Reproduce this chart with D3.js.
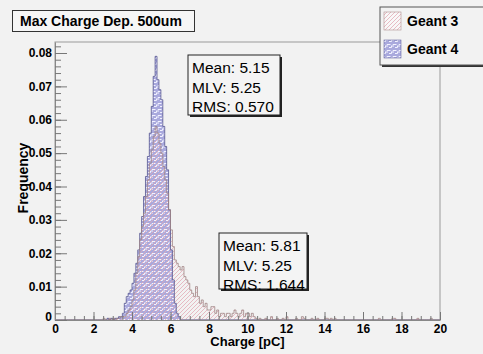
<!DOCTYPE html>
<html>
<head>
<meta charset="utf-8">
<script src="https://cdn.jsdelivr.net/npm/d3@7"></script>
<style>
  body { margin: 0; background: #f2f2f2; }
  text { font-family: "Liberation Sans", Arial, Helvetica, sans-serif; }
</style>
</head>
<body>
<script>

// histogram binning (pC)
var binWidth = 0.1;

// Geant 4 frequencies, contiguous bins from g4Start
var g4Start = 2.7;
var g4Freq = [0.0005, 0, 0.0005, 0, 0.0005, 0.0005, 0.001, 0.001, 0.002, 0.005,
              0.007, 0.008, 0.009, 0.011, 0.014, 0.017, 0.021, 0.026, 0.031, 0.037,
              0.043, 0.049, 0.056, 0.064, 0.073, 0.079, 0.072, 0.069, 0.066, 0.058,
              0.052, 0.045, 0.033, 0.021, 0.012, 0.005, 0.002, 0.001];

// Geant 3 frequencies, contiguous bins from g3Start
var g3Start = 2.5;
var g3Freq = [0.0005, 0, 0, 0.0005, 0, 0.0005, 0, 0.0005, 0.0005, 0.001,
              0.001, 0.001, 0.002, 0.003, 0.004, 0.006, 0.009, 0.014, 0.019, 0.024,
              0.028, 0.032, 0.037, 0.042, 0.047, 0.051, 0.055, 0.058, 0.056, 0.053,
              0.050, 0.046, 0.042, 0.038, 0.033, 0.027, 0.022, 0.018, 0.017, 0.016,
              0.015, 0.016, 0.013, 0.012, 0.011, 0.009, 0.008, 0.007, 0.010, 0.007,
              0.005, 0.006, 0.004, 0.005, 0.003, 0.003, 0.004, 0.004, 0.002, 0.003,
              0.001, 0.002, 0.002, 0.001, 0.002, 0.002, 0.001, 0.002, 0.003, 0.002,
              0.001, 0.002, 0.003, 0.001, 0.002, 0.002, 0.001, 0.002, 0.001, 0.0005];

// Geant 3 sparse tail (bin low edge, frequency)
var g3TailCharge = [10.6, 10.9, 11.2, 11.5, 11.8, 12.0, 12.5, 12.8, 12.9, 13.3, 13.6, 14.0, 14.1, 14.3, 14.5, 16.8, 17.5, 17.6, 18.8, 19.5];
var g3TailFreq   = [0.0005, 0.0005, 0.001, 0.0005, 0.0005, 0.001, 0.0005, 0.001, 0.0005, 0.0005, 0.0005, 0.0005, 0.0005, 0.0005, 0.0005, 0.0005, 0.0005, 0.0005, 0.0005, 0.0005];

// axis ticks
var xTicks = [0, 2, 4, 6, 8, 10, 12, 14, 16, 18, 20];
var yTicks = [0, 0.01, 0.02, 0.03, 0.04, 0.05, 0.06, 0.07, 0.08];
var yTickLabels = ["0", "0.01", "0.02", "0.03", "0.04", "0.05", "0.06", "0.07", "0.08"];

// stats
var g3Stats = ["Mean: 5.81", "MLV: 5.25", "RMS: 1.644"];
var g4Stats = ["Mean: 5.15", "MLV: 5.25", "RMS: 0.570"];
var legendNames = ["Geant 3", "Geant 4"];

var W = 483, H = 354;
var margin = {top: 42, right: 43, bottom: 34, left: 55},
    width = W - margin.left - margin.right,
    height = H - margin.top - margin.bottom;

var root = d3.select("body").append("svg")
    .attr("width", W).attr("height", H);

root.append("rect").attr("width", W).attr("height", H).attr("fill", "#f2f2f2");

// patterns
var defs = root.append("defs");
var p4 = defs.append("pattern").attr("id", "pat4")
    .attr("patternUnits", "userSpaceOnUse").attr("width", 6).attr("height", 6);
p4.append("rect").attr("width", 6).attr("height", 6).attr("fill", "#a9a9dd");
p4.append("path").attr("d", "M1,1.5h3.5M1,1.5v2.5M3,4.5h2.5v-2")
    .attr("stroke", "#f2f2ff").attr("stroke-width", 1).attr("fill", "none");

var p3 = defs.append("pattern").attr("id", "pat3")
    .attr("patternUnits", "userSpaceOnUse").attr("width", 4).attr("height", 4);
p3.append("path").attr("d", "M-1,1L1,-1M0,4L4,0M3,5L5,3")
    .attr("stroke", "#e2a8b4").attr("stroke-width", 0.9).attr("stroke-opacity", 0.85);

var svg = root.append("g")
    .attr("transform", "translate(" + margin.left + "," + margin.top + ")");

var x = d3.scaleLinear().domain([0, 20]).range([0, width]);
var y = d3.scaleLinear().domain([0, 0.0833]).range([height, 0]);

// build full 0..20 histograms
function makeBins(start, freq, tailC, tailF) {
  var n = Math.round(20 / binWidth);
  var b = d3.range(n).map(function() { return 0; });
  var i0 = Math.round(start / binWidth);
  freq.forEach(function(v, k) { b[i0 + k] = v; });
  (tailC || []).forEach(function(c, k) { b[Math.round(c / binWidth)] = tailF[k]; });
  return b;
}
var g4 = makeBins(g4Start, g4Freq);
var g3 = makeBins(g3Start, g3Freq, g3TailCharge, g3TailFreq);

function stepPoints(b) {
  var pts = [[0, 0]];
  b.forEach(function(v, i) {
    pts.push([i * binWidth, v]);
    pts.push([(i + 1) * binWidth, v]);
  });
  pts.push([20, 0]);
  return pts;
}

var area = d3.area()
    .x(function(d) { return x(d[0]); })
    .y0(y(0))
    .y1(function(d) { return y(d[1]); });
var line = d3.line()
    .x(function(d) { return x(d[0]); })
    .y(function(d) { return y(d[1]); });

// frame
svg.append("rect")
    .attr("width", width).attr("height", height)
    .attr("fill", "#f2f2f2").attr("stroke", "#9a9a9a");

// histograms
svg.append("path").datum(stepPoints(g4)).attr("d", area).attr("fill", "url(#pat4)");
svg.append("path").datum(stepPoints(g3)).attr("d", area).attr("fill", "url(#pat3)");
svg.append("path").datum(stepPoints(g4)).attr("d", line)
    .attr("fill", "none").attr("stroke", "#55558f").attr("stroke-width", 0.8);
svg.append("path").datum(stepPoints(g3)).attr("d", line)
    .attr("fill", "none").attr("stroke", "#a08484").attr("stroke-width", 0.8);

// axes
var xMinor = d3.range(0, 20.01, 0.5);
svg.append("g").attr("transform", "translate(0," + height + ")")
    .call(d3.axisBottom(x).tickValues(xMinor).tickSizeInner(-4).tickSizeOuter(0).tickFormat(""))
    .call(function(g) { g.selectAll("line").attr("stroke", "#777"); g.select(".domain").attr("stroke", "#888"); });
svg.append("g").attr("transform", "translate(0," + height + ")")
    .call(d3.axisBottom(x).tickValues(xTicks).tickSizeInner(-8).tickSizeOuter(0).tickPadding(4)
      .tickFormat(d3.format("d")))
    .call(function(g) {
      g.select(".domain").remove();
      g.selectAll("line").attr("stroke", "#777");
      g.selectAll("text").attr("font-size", 12).attr("font-weight", "bold").attr("fill", "#000")
        .style("font-family", "'Liberation Sans', Arial, sans-serif");
    });

var yMinor = d3.range(0, 0.0831, 0.002);
svg.append("g")
    .call(d3.axisLeft(y).tickValues(yMinor).tickSizeInner(-6).tickSizeOuter(0).tickFormat(""))
    .call(function(g) { g.selectAll("line").attr("stroke", "#777"); g.select(".domain").attr("stroke", "#888"); });
svg.append("g")
    .call(d3.axisLeft(y).tickValues(yTicks).tickSizeInner(-12).tickSizeOuter(0).tickPadding(3)
      .tickFormat(function(d, i) { return yTickLabels[i]; }))
    .call(function(g) {
      g.select(".domain").remove();
      g.selectAll("line").attr("stroke", "#777");
      g.selectAll("text").attr("font-size", 12).attr("font-weight", "bold").attr("fill", "#000")
        .style("font-family", "'Liberation Sans', Arial, sans-serif");
      g.selectAll(".tick").filter(function(d) { return d === 0; }).select("text").attr("dy", "0.05em");
    });

// axis titles
svg.append("text")
    .attr("x", width / 2).attr("y", height + 26)
    .attr("text-anchor", "middle").attr("font-size", 13).attr("font-weight", "bold")
    .text("Charge [pC]");
svg.append("text")
    .attr("transform", "translate(" + (-27) + "," + (height / 2 - 3) + ") rotate(-90)")
    .attr("text-anchor", "middle").attr("font-size", 14).attr("font-weight", "bold")
    .text("Frequency");

// stats boxes
function statBox(lines, bx, by, bw, bh) {
  var g = root.append("g").attr("transform", "translate(" + bx + "," + by + ")");
  g.append("rect").attr("x", 2).attr("y", 2).attr("width", bw).attr("height", bh).attr("fill", "#222");
  g.append("rect").attr("width", bw).attr("height", bh).attr("fill", "#f4f4f4").attr("stroke", "#222");
  g.selectAll("text").data(lines).enter().append("text")
    .attr("x", 4).attr("y", function(d, i) { return 18 + i * 19.5; })
    .attr("font-size", 15.5).attr("fill", "#000")
    .text(function(d) { return d; });
}
statBox(g4Stats, 188, 55, 92, 60);
statBox(g3Stats, 219, 233, 88, 56);

// title
var tg = root.append("g");
tg.append("rect").attr("x", 12.5).attr("y", 10.5).attr("width", 182).attr("height", 21)
  .attr("fill", "#f6f6f6").attr("stroke", "#333");
tg.append("text").attr("x", 20).attr("y", 26).attr("font-size", 14).attr("font-weight", "bold")
  .text("Max Charge Dep. 500um");

// legend
var lg = root.append("g").attr("transform", "translate(380,7)");
lg.append("rect").attr("x", 2).attr("y", 2).attr("width", 110).attr("height", 58).attr("fill", "#333");
lg.append("rect").attr("width", 110).attr("height", 58).attr("fill", "#f2f2f2").attr("stroke", "#555");
var fills = ["url(#pat3)", "url(#pat4)"];
var strokes = ["#b09090", "#6a6aa0"];
legendNames.forEach(function(name, i) {
  lg.append("rect").attr("x", 4).attr("y", 5 + i * 28).attr("width", 17).attr("height", 18)
    .attr("fill", "#f8f8f8");
  lg.append("rect").attr("x", 4).attr("y", 5 + i * 28).attr("width", 17).attr("height", 18)
    .attr("fill", fills[i]).attr("stroke", strokes[i]).attr("stroke-width", 0.6);
  lg.append("text").attr("x", 27).attr("y", 19 + i * 28).attr("font-size", 14).attr("font-weight", "bold")
    .text(name);
});

</script>
</body>
</html>
